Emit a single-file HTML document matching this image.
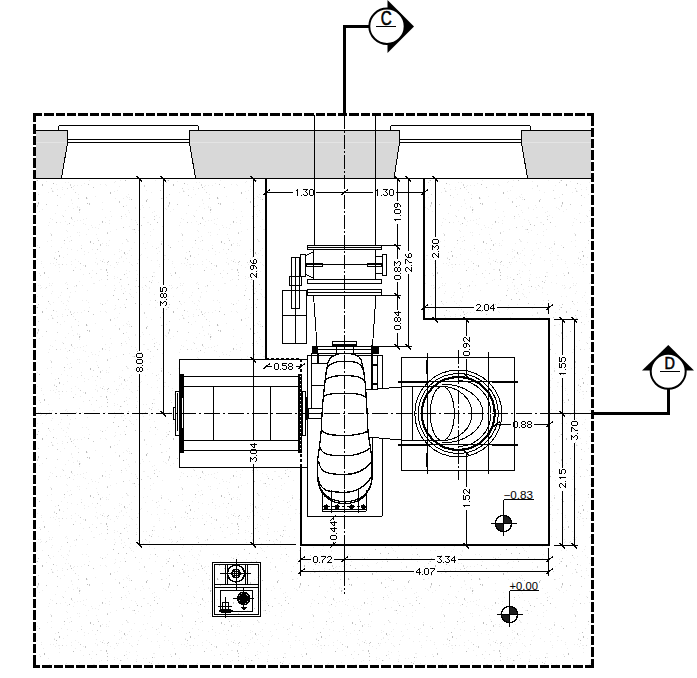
<!DOCTYPE html>
<html><head><meta charset="utf-8"><style>
html,body{margin:0;padding:0;background:#fff;}
svg{display:block;}
text{font-family:"Liberation Sans",sans-serif;fill:#000;}
</style></head><body>
<svg width="697" height="678" viewBox="0 0 697 678" shape-rendering="crispEdges">
<defs><pattern id="sp" width="131" height="127" patternUnits="userSpaceOnUse">
<rect x="38" y="50" width="1" height="1" fill="#c8c8c8"/>
<rect x="24" y="46" width="1" height="1" fill="#bcbcbc"/>
<rect x="54" y="4" width="1" height="1" fill="#d4d4d4"/>
<rect x="107" y="8" width="1" height="1" fill="#c8c8c8"/>
<rect x="108" y="7" width="1" height="1" fill="#bcbcbc"/>
<rect x="15" y="73" width="1" height="2" fill="#bcbcbc"/>
<rect x="56" y="5" width="1" height="1" fill="#bcbcbc"/>
<rect x="107" y="18" width="1" height="1" fill="#c8c8c8"/>
<rect x="78" y="71" width="1" height="1" fill="#d4d4d4"/>
<rect x="48" y="47" width="1" height="1" fill="#bcbcbc"/>
<rect x="16" y="72" width="1" height="1" fill="#d4d4d4"/>
<rect x="52" y="63" width="1" height="2" fill="#d4d4d4"/>
<rect x="119" y="74" width="1" height="2" fill="#c8c8c8"/>
<rect x="76" y="31" width="1" height="1" fill="#c8c8c8"/>
<rect x="62" y="10" width="1" height="1" fill="#d4d4d4"/>
<rect x="126" y="112" width="1" height="1" fill="#d4d4d4"/>
<rect x="114" y="36" width="1" height="1" fill="#d4d4d4"/>
<rect x="107" y="21" width="1" height="1" fill="#bcbcbc"/>
<rect x="125" y="53" width="1" height="1" fill="#bcbcbc"/>
<rect x="19" y="97" width="1" height="1" fill="#d4d4d4"/>
<rect x="89" y="76" width="1" height="2" fill="#c8c8c8"/>
<rect x="116" y="8" width="1" height="1" fill="#d4d4d4"/>
<rect x="121" y="89" width="1" height="1" fill="#c8c8c8"/>
<rect x="79" y="82" width="1" height="2" fill="#bcbcbc"/>
<rect x="98" y="113" width="1" height="1" fill="#c8c8c8"/>
<rect x="118" y="45" width="1" height="1" fill="#bcbcbc"/>
<rect x="29" y="63" width="1" height="1" fill="#d4d4d4"/>
<rect x="73" y="16" width="1" height="1" fill="#bcbcbc"/>
<rect x="100" y="117" width="1" height="2" fill="#c8c8c8"/>
<rect x="42" y="57" width="1" height="2" fill="#bcbcbc"/>
<rect x="71" y="113" width="1" height="1" fill="#d4d4d4"/>
<rect x="71" y="90" width="1" height="2" fill="#c8c8c8"/>
<rect x="97" y="122" width="1" height="1" fill="#c8c8c8"/>
<rect x="21" y="22" width="1" height="1" fill="#bcbcbc"/>
<rect x="59" y="1" width="1" height="2" fill="#bcbcbc"/>
<rect x="46" y="33" width="1" height="1" fill="#d4d4d4"/>
<rect x="37" y="53" width="1" height="1" fill="#bcbcbc"/>
<rect x="81" y="121" width="1" height="1" fill="#d4d4d4"/>
<rect x="13" y="58" width="1" height="2" fill="#d4d4d4"/>
<rect x="102" y="50" width="1" height="1" fill="#c8c8c8"/>
<rect x="102" y="7" width="1" height="1" fill="#c8c8c8"/>
<rect x="53" y="56" width="1" height="1" fill="#bcbcbc"/>
<rect x="87" y="76" width="1" height="1" fill="#bcbcbc"/>
<rect x="0" y="72" width="1" height="1" fill="#bcbcbc"/>
<rect x="25" y="121" width="1" height="1" fill="#d4d4d4"/>
<rect x="6" y="9" width="1" height="1" fill="#d4d4d4"/>
<rect x="96" y="19" width="1" height="1" fill="#d4d4d4"/>
<rect x="93" y="60" width="1" height="1" fill="#c8c8c8"/>
<rect x="124" y="125" width="1" height="2" fill="#bcbcbc"/>
<rect x="123" y="39" width="1" height="1" fill="#c8c8c8"/>
<rect x="26" y="95" width="1" height="1" fill="#bcbcbc"/>
<rect x="67" y="61" width="1" height="1" fill="#d4d4d4"/>
<rect x="5" y="26" width="1" height="1" fill="#d4d4d4"/>
<rect x="6" y="97" width="1" height="1" fill="#bcbcbc"/>
<rect x="23" y="89" width="1" height="1" fill="#d4d4d4"/>
<rect x="93" y="116" width="1" height="1" fill="#d4d4d4"/>
<rect x="57" y="68" width="1" height="1" fill="#c8c8c8"/>
<rect x="57" y="78" width="1" height="1" fill="#d4d4d4"/>
<rect x="102" y="94" width="1" height="1" fill="#bcbcbc"/>
<rect x="126" y="45" width="1" height="1" fill="#bcbcbc"/>
<rect x="71" y="60" width="1" height="1" fill="#bcbcbc"/>
<rect x="88" y="57" width="1" height="1" fill="#bcbcbc"/>
<rect x="20" y="28" width="1" height="1" fill="#c8c8c8"/>
<rect x="120" y="25" width="1" height="1" fill="#bcbcbc"/>
<rect x="123" y="79" width="1" height="1" fill="#bcbcbc"/>
<rect x="88" y="102" width="1" height="1" fill="#c8c8c8"/>
<rect x="30" y="116" width="1" height="2" fill="#d4d4d4"/>
<rect x="51" y="61" width="1" height="1" fill="#d4d4d4"/>
<rect x="85" y="11" width="1" height="2" fill="#c8c8c8"/>
<rect x="102" y="95" width="1" height="1" fill="#c8c8c8"/>
<rect x="40" y="21" width="1" height="1" fill="#d4d4d4"/>
<rect x="38" y="75" width="1" height="2" fill="#bcbcbc"/>
<rect x="37" y="78" width="1" height="2" fill="#d4d4d4"/>
<rect x="89" y="19" width="1" height="1" fill="#d4d4d4"/>
<rect x="3" y="102" width="1" height="1" fill="#bcbcbc"/>
<rect x="35" y="55" width="1" height="1" fill="#d4d4d4"/>
<rect x="7" y="32" width="1" height="1" fill="#bcbcbc"/>
<rect x="128" y="30" width="1" height="1" fill="#c8c8c8"/>
<rect x="107" y="106" width="1" height="1" fill="#c8c8c8"/>
<rect x="90" y="114" width="1" height="2" fill="#bcbcbc"/>
<rect x="107" y="105" width="1" height="1" fill="#d4d4d4"/>
<rect x="38" y="67" width="1" height="1" fill="#d4d4d4"/>
<rect x="46" y="77" width="1" height="1" fill="#c8c8c8"/>
<rect x="44" y="18" width="1" height="2" fill="#bcbcbc"/>
<rect x="30" y="71" width="1" height="1" fill="#d4d4d4"/>
<rect x="123" y="100" width="1" height="1" fill="#c8c8c8"/>
<rect x="14" y="31" width="1" height="1" fill="#d4d4d4"/>
<rect x="10" y="98" width="1" height="1" fill="#c8c8c8"/>
<rect x="115" y="71" width="1" height="1" fill="#d4d4d4"/>
<rect x="113" y="41" width="1" height="1" fill="#bcbcbc"/>
<rect x="70" y="57" width="1" height="2" fill="#d4d4d4"/>
<rect x="63" y="89" width="1" height="1" fill="#d4d4d4"/>
<rect x="51" y="107" width="1" height="2" fill="#d4d4d4"/>
<rect x="106" y="15" width="1" height="2" fill="#bcbcbc"/>
<rect x="80" y="9" width="1" height="1" fill="#c8c8c8"/>
<rect x="18" y="27" width="1" height="1" fill="#c8c8c8"/>
<rect x="39" y="120" width="1" height="1" fill="#bcbcbc"/>
<rect x="64" y="113" width="1" height="1" fill="#bcbcbc"/>
<rect x="56" y="95" width="1" height="1" fill="#c8c8c8"/>
<rect x="124" y="20" width="1" height="1" fill="#c8c8c8"/>
<rect x="110" y="65" width="1" height="2" fill="#bcbcbc"/>
<rect x="107" y="25" width="1" height="1" fill="#c8c8c8"/>
<rect x="23" y="92" width="1" height="1" fill="#c8c8c8"/>
<rect x="86" y="70" width="1" height="2" fill="#bcbcbc"/>
<rect x="4" y="49" width="1" height="1" fill="#c8c8c8"/>
<rect x="75" y="65" width="1" height="1" fill="#d4d4d4"/>
<rect x="58" y="124" width="1" height="1" fill="#bcbcbc"/>
<rect x="67" y="34" width="1" height="1" fill="#bcbcbc"/>
<rect x="69" y="96" width="1" height="1" fill="#bcbcbc"/>
<rect x="66" y="51" width="1" height="1" fill="#c8c8c8"/>
<rect x="126" y="89" width="1" height="1" fill="#ececec"/>
<rect x="83" y="11" width="1" height="1" fill="#ececec"/>
<rect x="71" y="7" width="1" height="1" fill="#ececec"/>
<rect x="46" y="54" width="1" height="1" fill="#ececec"/>
<rect x="18" y="34" width="1" height="1" fill="#ececec"/>
<rect x="4" y="81" width="1" height="1" fill="#ececec"/>
<rect x="22" y="102" width="1" height="1" fill="#ececec"/>
<rect x="66" y="10" width="1" height="1" fill="#ececec"/>
<rect x="56" y="8" width="1" height="1" fill="#ececec"/>
<rect x="67" y="110" width="1" height="1" fill="#ececec"/>
<rect x="31" y="58" width="1" height="1" fill="#ececec"/>
<rect x="2" y="43" width="1" height="1" fill="#ececec"/>
<rect x="106" y="118" width="1" height="1" fill="#ececec"/>
<rect x="68" y="79" width="1" height="1" fill="#ececec"/>
<rect x="33" y="5" width="1" height="1" fill="#ececec"/>
<rect x="61" y="120" width="1" height="1" fill="#ececec"/>
<rect x="28" y="124" width="1" height="1" fill="#ececec"/>
<rect x="41" y="33" width="1" height="1" fill="#ececec"/>
<rect x="12" y="23" width="1" height="1" fill="#ececec"/>
<rect x="51" y="119" width="1" height="1" fill="#ececec"/>
<rect x="79" y="80" width="1" height="1" fill="#ececec"/>
<rect x="78" y="67" width="1" height="1" fill="#ececec"/>
<rect x="52" y="37" width="1" height="1" fill="#ececec"/>
<rect x="114" y="64" width="1" height="1" fill="#ececec"/>
<rect x="45" y="34" width="1" height="1" fill="#ececec"/>
<rect x="88" y="102" width="1" height="1" fill="#ececec"/>
<rect x="4" y="32" width="1" height="1" fill="#ececec"/>
<rect x="9" y="1" width="1" height="1" fill="#ececec"/>
<rect x="4" y="93" width="1" height="1" fill="#ececec"/>
<rect x="129" y="70" width="1" height="1" fill="#ececec"/>
<rect x="48" y="65" width="1" height="1" fill="#ececec"/>
<rect x="121" y="31" width="1" height="1" fill="#ececec"/>
<rect x="114" y="13" width="1" height="1" fill="#ececec"/>
<rect x="110" y="84" width="1" height="1" fill="#ececec"/>
<rect x="126" y="69" width="1" height="1" fill="#ececec"/>
<rect x="100" y="124" width="1" height="1" fill="#ececec"/>
<rect x="129" y="39" width="1" height="1" fill="#ececec"/>
<rect x="55" y="125" width="1" height="1" fill="#ececec"/>
<rect x="58" y="43" width="1" height="1" fill="#ececec"/>
<rect x="50" y="106" width="1" height="1" fill="#ececec"/>
<rect x="35" y="51" width="1" height="1" fill="#ececec"/>
<rect x="88" y="125" width="1" height="1" fill="#ececec"/>
<rect x="13" y="107" width="1" height="1" fill="#ececec"/>
<rect x="33" y="1" width="1" height="1" fill="#ececec"/>
<rect x="18" y="80" width="1" height="1" fill="#ececec"/>
<rect x="65" y="55" width="1" height="1" fill="#ececec"/>
<rect x="41" y="7" width="1" height="1" fill="#ececec"/>
<rect x="21" y="85" width="1" height="1" fill="#ececec"/>
<rect x="97" y="111" width="1" height="1" fill="#ececec"/>
<rect x="129" y="85" width="1" height="1" fill="#ececec"/>
<rect x="72" y="76" width="1" height="1" fill="#ececec"/>
<rect x="62" y="88" width="1" height="1" fill="#ececec"/>
<rect x="75" y="5" width="1" height="1" fill="#ececec"/>
<rect x="117" y="23" width="1" height="1" fill="#ececec"/>
<rect x="40" y="34" width="1" height="1" fill="#ececec"/>
<rect x="114" y="0" width="1" height="1" fill="#ececec"/>
<rect x="67" y="46" width="1" height="1" fill="#ececec"/>
<rect x="84" y="124" width="1" height="1" fill="#ececec"/>
<rect x="82" y="31" width="1" height="1" fill="#ececec"/>
<rect x="8" y="123" width="1" height="1" fill="#ececec"/>
<rect x="79" y="27" width="1" height="1" fill="#ececec"/>
<rect x="91" y="23" width="1" height="1" fill="#ececec"/>
<rect x="0" y="42" width="1" height="1" fill="#ececec"/>
<rect x="97" y="10" width="1" height="1" fill="#ececec"/>
<rect x="121" y="35" width="1" height="1" fill="#ececec"/>
<rect x="128" y="83" width="1" height="1" fill="#ececec"/>
<rect x="51" y="31" width="1" height="1" fill="#ececec"/>
<rect x="129" y="99" width="1" height="1" fill="#ececec"/>
<rect x="1" y="11" width="1" height="1" fill="#ececec"/>
<rect x="67" y="104" width="1" height="1" fill="#ececec"/>
<rect x="22" y="18" width="1" height="1" fill="#ececec"/>
<rect x="102" y="75" width="1" height="1" fill="#ececec"/>
<rect x="10" y="50" width="1" height="1" fill="#ececec"/>
<rect x="5" y="38" width="1" height="1" fill="#ececec"/>
<rect x="77" y="80" width="1" height="1" fill="#ececec"/>
<rect x="59" y="10" width="1" height="1" fill="#ececec"/>
<rect x="39" y="84" width="1" height="1" fill="#ececec"/>
<rect x="99" y="97" width="1" height="1" fill="#ececec"/>
<rect x="83" y="92" width="1" height="1" fill="#ececec"/>
<rect x="126" y="19" width="1" height="1" fill="#ececec"/>
<rect x="72" y="92" width="1" height="1" fill="#ececec"/>
<rect x="37" y="5" width="1" height="1" fill="#ececec"/>
<rect x="109" y="93" width="1" height="1" fill="#ececec"/>
<rect x="129" y="17" width="1" height="1" fill="#ececec"/>
<rect x="129" y="72" width="1" height="1" fill="#ececec"/>
<rect x="4" y="105" width="1" height="1" fill="#ececec"/>
<rect x="58" y="10" width="1" height="1" fill="#ececec"/>
<rect x="7" y="5" width="1" height="1" fill="#ececec"/>
<rect x="34" y="81" width="1" height="1" fill="#ececec"/>
<rect x="92" y="122" width="1" height="1" fill="#ececec"/>
<rect x="26" y="48" width="1" height="1" fill="#ececec"/>
<rect x="115" y="71" width="1" height="1" fill="#ececec"/>
<rect x="12" y="80" width="1" height="1" fill="#ececec"/>
<rect x="4" y="80" width="1" height="1" fill="#ececec"/>
<rect x="62" y="62" width="1" height="1" fill="#ececec"/>
<rect x="67" y="0" width="1" height="1" fill="#ececec"/>
<rect x="116" y="102" width="1" height="1" fill="#ececec"/>
<rect x="17" y="95" width="1" height="1" fill="#ececec"/>
<rect x="128" y="114" width="1" height="1" fill="#ececec"/>
<rect x="23" y="84" width="1" height="1" fill="#ececec"/>
<rect x="16" y="95" width="1" height="1" fill="#ececec"/>
<rect x="121" y="32" width="1" height="1" fill="#ececec"/>
<rect x="19" y="108" width="1" height="1" fill="#ececec"/>
<rect x="67" y="30" width="1" height="1" fill="#ececec"/>
<rect x="52" y="29" width="1" height="1" fill="#ececec"/>
<rect x="117" y="63" width="1" height="1" fill="#ececec"/>
<rect x="97" y="9" width="1" height="1" fill="#ececec"/>
<rect x="122" y="116" width="1" height="1" fill="#ececec"/>
<rect x="73" y="98" width="1" height="1" fill="#ececec"/>
<rect x="11" y="78" width="1" height="1" fill="#ececec"/>
<rect x="50" y="9" width="1" height="1" fill="#ececec"/>
<rect x="37" y="42" width="1" height="1" fill="#ececec"/>
<rect x="65" y="83" width="1" height="1" fill="#ececec"/>
<rect x="77" y="79" width="1" height="1" fill="#ececec"/>
<rect x="34" y="1" width="1" height="1" fill="#ececec"/>
<rect x="123" y="7" width="1" height="1" fill="#ececec"/>
<rect x="124" y="34" width="1" height="1" fill="#ececec"/>
<rect x="25" y="88" width="1" height="1" fill="#ececec"/>
<rect x="55" y="86" width="1" height="1" fill="#ececec"/>
<rect x="125" y="37" width="1" height="1" fill="#ececec"/>
<rect x="73" y="59" width="1" height="1" fill="#ececec"/>
<rect x="119" y="59" width="1" height="1" fill="#ececec"/>
<rect x="30" y="114" width="1" height="1" fill="#ececec"/>
<rect x="51" y="39" width="1" height="1" fill="#ececec"/>
<rect x="21" y="119" width="1" height="1" fill="#ececec"/>
<rect x="121" y="2" width="1" height="1" fill="#ececec"/>
<rect x="74" y="58" width="1" height="1" fill="#ececec"/>
<rect x="19" y="104" width="1" height="1" fill="#ececec"/>
<rect x="129" y="123" width="1" height="1" fill="#ececec"/>
<rect x="115" y="34" width="1" height="1" fill="#ececec"/>
<rect x="99" y="26" width="1" height="1" fill="#ececec"/>
<rect x="53" y="9" width="1" height="1" fill="#ececec"/>
<rect x="23" y="18" width="1" height="1" fill="#ececec"/>
<rect x="67" y="121" width="1" height="1" fill="#ececec"/>
<rect x="92" y="16" width="1" height="1" fill="#ececec"/>
<rect x="130" y="35" width="1" height="1" fill="#ececec"/>
<rect x="28" y="90" width="1" height="1" fill="#ececec"/>
<rect x="93" y="29" width="1" height="1" fill="#ececec"/>
<rect x="127" y="114" width="1" height="1" fill="#ececec"/>
<rect x="124" y="50" width="1" height="1" fill="#ececec"/>
<rect x="6" y="20" width="1" height="1" fill="#ececec"/>
<rect x="0" y="121" width="1" height="1" fill="#ececec"/>
<rect x="125" y="87" width="1" height="1" fill="#ececec"/>
<rect x="115" y="51" width="1" height="1" fill="#ececec"/>
<rect x="77" y="93" width="1" height="1" fill="#ececec"/>
<rect x="36" y="53" width="1" height="1" fill="#ececec"/>
<rect x="88" y="48" width="1" height="1" fill="#ececec"/>
<rect x="80" y="15" width="1" height="1" fill="#ececec"/>
<rect x="84" y="0" width="1" height="1" fill="#ececec"/>
<rect x="83" y="96" width="1" height="1" fill="#ececec"/>
<rect x="86" y="107" width="1" height="1" fill="#ececec"/>
<rect x="101" y="15" width="1" height="1" fill="#ececec"/>
<rect x="50" y="91" width="1" height="1" fill="#ececec"/>
<rect x="3" y="115" width="1" height="1" fill="#ececec"/>
<rect x="74" y="32" width="1" height="1" fill="#ececec"/>
<rect x="95" y="8" width="1" height="1" fill="#ececec"/>
<rect x="100" y="49" width="1" height="1" fill="#ececec"/>
<rect x="19" y="46" width="1" height="1" fill="#ececec"/>
<rect x="109" y="96" width="1" height="1" fill="#ececec"/>
<rect x="70" y="109" width="1" height="1" fill="#ececec"/>
<rect x="12" y="35" width="1" height="1" fill="#ececec"/>
<rect x="26" y="6" width="1" height="1" fill="#ececec"/>
<rect x="73" y="81" width="1" height="1" fill="#ececec"/>
<rect x="38" y="31" width="1" height="1" fill="#ececec"/>
<rect x="68" y="55" width="1" height="1" fill="#ececec"/>
<rect x="130" y="40" width="1" height="1" fill="#ececec"/>
<rect x="48" y="98" width="1" height="1" fill="#ececec"/>
<rect x="95" y="100" width="1" height="1" fill="#ececec"/>
<rect x="109" y="113" width="1" height="1" fill="#ececec"/>
<rect x="7" y="103" width="1" height="1" fill="#ececec"/>
<rect x="102" y="116" width="1" height="1" fill="#ececec"/>
<rect x="52" y="92" width="1" height="1" fill="#ececec"/>
<rect x="20" y="6" width="1" height="1" fill="#ececec"/>
<rect x="105" y="57" width="1" height="1" fill="#ececec"/>
<rect x="35" y="82" width="1" height="1" fill="#ececec"/>
<rect x="73" y="62" width="1" height="1" fill="#ececec"/>
<rect x="12" y="116" width="1" height="1" fill="#ececec"/>
<rect x="32" y="21" width="1" height="1" fill="#ececec"/>
<rect x="120" y="53" width="1" height="1" fill="#ececec"/>
<rect x="87" y="36" width="1" height="1" fill="#ececec"/>
<rect x="76" y="32" width="1" height="1" fill="#ececec"/>
<rect x="66" y="51" width="1" height="1" fill="#ececec"/>
<rect x="61" y="38" width="1" height="1" fill="#ececec"/>
<rect x="123" y="71" width="1" height="1" fill="#ececec"/>
<rect x="100" y="15" width="1" height="1" fill="#ececec"/>
<rect x="42" y="82" width="1" height="1" fill="#ececec"/>
<rect x="41" y="9" width="1" height="1" fill="#ececec"/>
<rect x="53" y="64" width="1" height="1" fill="#ececec"/>
<rect x="127" y="70" width="1" height="1" fill="#ececec"/>
<rect x="56" y="57" width="1" height="1" fill="#ececec"/>
<rect x="85" y="97" width="1" height="1" fill="#ececec"/>
<rect x="115" y="54" width="1" height="1" fill="#ececec"/>
<rect x="35" y="70" width="1" height="1" fill="#ececec"/>
<rect x="49" y="31" width="1" height="1" fill="#ececec"/>
<rect x="23" y="22" width="1" height="1" fill="#ececec"/>
<rect x="87" y="71" width="1" height="1" fill="#ececec"/>
<rect x="23" y="40" width="1" height="1" fill="#ececec"/>
<rect x="61" y="47" width="1" height="1" fill="#ececec"/>
<rect x="66" y="103" width="1" height="1" fill="#ececec"/>
<rect x="51" y="113" width="1" height="1" fill="#ececec"/>
<rect x="5" y="95" width="1" height="1" fill="#ececec"/>
<rect x="105" y="49" width="1" height="1" fill="#ececec"/>
<rect x="105" y="95" width="1" height="1" fill="#ececec"/>
<rect x="53" y="48" width="1" height="1" fill="#ececec"/>
<rect x="69" y="43" width="1" height="1" fill="#ececec"/>
<rect x="15" y="63" width="1" height="1" fill="#ececec"/>
<rect x="71" y="73" width="1" height="1" fill="#ececec"/>
<rect x="92" y="16" width="1" height="1" fill="#ececec"/>
<rect x="128" y="67" width="1" height="1" fill="#ececec"/>
<rect x="55" y="11" width="1" height="1" fill="#ececec"/>
<rect x="69" y="114" width="1" height="1" fill="#ececec"/>
<rect x="63" y="49" width="1" height="1" fill="#ececec"/>
<rect x="102" y="82" width="1" height="1" fill="#ececec"/>
<rect x="114" y="55" width="1" height="1" fill="#ececec"/>
<rect x="79" y="108" width="1" height="1" fill="#ececec"/>
<rect x="5" y="16" width="1" height="1" fill="#ececec"/>
<rect x="8" y="54" width="1" height="1" fill="#ececec"/>
<rect x="121" y="123" width="1" height="1" fill="#ececec"/>
<rect x="125" y="0" width="1" height="1" fill="#ececec"/>
<rect x="18" y="50" width="1" height="1" fill="#ececec"/>
<rect x="119" y="124" width="1" height="1" fill="#ececec"/>
<rect x="114" y="31" width="1" height="1" fill="#ececec"/>
<rect x="27" y="28" width="1" height="1" fill="#ececec"/>
<rect x="39" y="19" width="1" height="1" fill="#ececec"/>
<rect x="27" y="120" width="1" height="1" fill="#ececec"/>
<rect x="117" y="10" width="1" height="1" fill="#ececec"/>
<rect x="10" y="0" width="1" height="1" fill="#ececec"/>
<rect x="32" y="29" width="1" height="1" fill="#ececec"/>
<rect x="9" y="82" width="1" height="1" fill="#ececec"/>
<rect x="77" y="123" width="1" height="1" fill="#ececec"/>
<rect x="32" y="80" width="1" height="1" fill="#ececec"/>
<rect x="64" y="67" width="1" height="1" fill="#ececec"/>
<rect x="111" y="89" width="1" height="1" fill="#ececec"/>
<rect x="28" y="12" width="1" height="1" fill="#ececec"/>
<rect x="18" y="38" width="1" height="1" fill="#ececec"/>
<rect x="49" y="49" width="1" height="1" fill="#ececec"/>
<rect x="66" y="28" width="1" height="1" fill="#ececec"/>
<rect x="0" y="1" width="1" height="1" fill="#ececec"/>
<rect x="77" y="58" width="1" height="1" fill="#ececec"/>
<rect x="71" y="122" width="1" height="1" fill="#ececec"/>
<rect x="80" y="82" width="1" height="1" fill="#ececec"/>
<rect x="62" y="60" width="1" height="1" fill="#ececec"/>
<rect x="60" y="70" width="1" height="1" fill="#ececec"/>
<rect x="63" y="3" width="1" height="1" fill="#ececec"/>
<rect x="105" y="90" width="1" height="1" fill="#ececec"/>
<rect x="78" y="7" width="1" height="1" fill="#ececec"/>
<rect x="5" y="24" width="1" height="1" fill="#ececec"/>
<rect x="127" y="113" width="1" height="1" fill="#ececec"/>
<rect x="107" y="10" width="1" height="1" fill="#ececec"/>
<rect x="65" y="29" width="1" height="1" fill="#ececec"/>
<rect x="108" y="118" width="1" height="1" fill="#ececec"/>
<rect x="94" y="29" width="1" height="1" fill="#ececec"/>
<rect x="126" y="4" width="1" height="1" fill="#ececec"/>
<rect x="86" y="91" width="1" height="1" fill="#ececec"/>
<rect x="107" y="46" width="1" height="1" fill="#ececec"/>
<rect x="101" y="25" width="1" height="1" fill="#ececec"/>
<rect x="1" y="102" width="1" height="1" fill="#ececec"/>
<rect x="74" y="94" width="1" height="1" fill="#ececec"/>
<rect x="129" y="8" width="1" height="1" fill="#ececec"/>
<rect x="52" y="63" width="1" height="1" fill="#ececec"/>
<rect x="51" y="39" width="1" height="1" fill="#ececec"/>
<rect x="49" y="29" width="1" height="1" fill="#ececec"/>
<rect x="119" y="28" width="1" height="1" fill="#ececec"/>
<rect x="67" y="97" width="1" height="1" fill="#ececec"/>
<rect x="75" y="13" width="1" height="1" fill="#ececec"/>
<rect x="126" y="78" width="1" height="1" fill="#ececec"/>
<rect x="47" y="114" width="1" height="1" fill="#ececec"/>
<rect x="57" y="62" width="1" height="1" fill="#ececec"/>
<rect x="106" y="116" width="1" height="1" fill="#ececec"/>
<rect x="14" y="121" width="1" height="1" fill="#ececec"/>
<rect x="37" y="118" width="1" height="1" fill="#ececec"/>
<rect x="100" y="6" width="1" height="1" fill="#ececec"/>
<rect x="54" y="3" width="1" height="1" fill="#ececec"/>
<rect x="36" y="53" width="1" height="1" fill="#ececec"/>
<rect x="13" y="90" width="1" height="1" fill="#ececec"/>
<rect x="15" y="23" width="1" height="1" fill="#ececec"/>
<rect x="100" y="57" width="1" height="1" fill="#ececec"/>
<rect x="80" y="93" width="1" height="1" fill="#ececec"/>
<rect x="28" y="10" width="1" height="1" fill="#ececec"/>
<rect x="42" y="42" width="1" height="1" fill="#ececec"/>
<rect x="48" y="23" width="1" height="1" fill="#ececec"/>
<rect x="119" y="4" width="1" height="1" fill="#ececec"/>
<rect x="79" y="85" width="1" height="1" fill="#ececec"/>
<rect x="96" y="107" width="1" height="1" fill="#ececec"/>
<rect x="95" y="126" width="1" height="1" fill="#ececec"/>
<rect x="84" y="56" width="1" height="1" fill="#ececec"/>
<rect x="43" y="13" width="1" height="1" fill="#ececec"/>
<rect x="0" y="10" width="1" height="1" fill="#ececec"/>
<rect x="71" y="10" width="1" height="1" fill="#ececec"/>
<rect x="89" y="53" width="1" height="1" fill="#ececec"/>
<rect x="31" y="71" width="1" height="1" fill="#ececec"/>
<rect x="53" y="48" width="1" height="1" fill="#ececec"/>
<rect x="91" y="98" width="1" height="1" fill="#ececec"/>
<rect x="79" y="105" width="1" height="1" fill="#ececec"/>
<rect x="110" y="11" width="1" height="1" fill="#ececec"/>
<rect x="12" y="90" width="1" height="1" fill="#ececec"/>
<rect x="121" y="25" width="1" height="1" fill="#ececec"/>
<rect x="95" y="69" width="1" height="1" fill="#ececec"/>
<rect x="114" y="24" width="1" height="1" fill="#ececec"/>
<rect x="82" y="46" width="1" height="1" fill="#ececec"/>
<rect x="121" y="3" width="1" height="1" fill="#ececec"/>
<rect x="105" y="31" width="1" height="1" fill="#ececec"/>
<rect x="103" y="5" width="1" height="1" fill="#ececec"/>
<rect x="96" y="4" width="1" height="1" fill="#ececec"/>
<rect x="118" y="8" width="1" height="1" fill="#ececec"/>
<rect x="15" y="32" width="1" height="1" fill="#ececec"/>
<rect x="49" y="95" width="1" height="1" fill="#ececec"/>
<rect x="16" y="115" width="1" height="1" fill="#ececec"/>
<rect x="86" y="46" width="1" height="1" fill="#ececec"/>
<rect x="69" y="42" width="1" height="1" fill="#ececec"/>
<rect x="11" y="33" width="1" height="1" fill="#ececec"/>
<rect x="81" y="118" width="1" height="1" fill="#ececec"/>
<rect x="70" y="38" width="1" height="1" fill="#ececec"/>
<rect x="0" y="92" width="1" height="1" fill="#ececec"/>
<rect x="16" y="3" width="1" height="1" fill="#ececec"/>
<rect x="59" y="13" width="1" height="1" fill="#ececec"/>
<rect x="121" y="91" width="1" height="1" fill="#ececec"/>
<rect x="119" y="122" width="1" height="1" fill="#ececec"/>
<rect x="98" y="101" width="1" height="1" fill="#ececec"/>
<rect x="64" y="116" width="1" height="1" fill="#ececec"/>
<rect x="110" y="104" width="1" height="1" fill="#ececec"/>
<rect x="126" y="16" width="1" height="1" fill="#ececec"/>
<rect x="127" y="23" width="1" height="1" fill="#ececec"/>
<rect x="2" y="102" width="1" height="1" fill="#ececec"/>
<rect x="77" y="105" width="1" height="1" fill="#ececec"/>
<rect x="38" y="77" width="1" height="1" fill="#ececec"/>
<rect x="60" y="41" width="1" height="1" fill="#ececec"/>
<rect x="81" y="58" width="1" height="1" fill="#ececec"/>
<rect x="92" y="100" width="1" height="1" fill="#ececec"/>
<rect x="20" y="65" width="1" height="1" fill="#ececec"/>
<rect x="50" y="50" width="1" height="1" fill="#ececec"/>
<rect x="40" y="31" width="1" height="1" fill="#ececec"/>
<rect x="104" y="8" width="1" height="1" fill="#ececec"/>
<rect x="8" y="61" width="1" height="1" fill="#ececec"/>
<rect x="83" y="20" width="1" height="1" fill="#ececec"/>
<rect x="109" y="113" width="1" height="1" fill="#ececec"/>
<rect x="26" y="126" width="1" height="1" fill="#ececec"/>
<rect x="18" y="33" width="1" height="1" fill="#ececec"/>
<rect x="21" y="26" width="1" height="1" fill="#ececec"/>
<rect x="24" y="53" width="1" height="1" fill="#ececec"/>
<rect x="127" y="126" width="1" height="1" fill="#ececec"/>
<rect x="114" y="22" width="1" height="1" fill="#ececec"/>
<rect x="59" y="17" width="1" height="1" fill="#ececec"/>
<rect x="106" y="58" width="1" height="1" fill="#ececec"/>
<rect x="60" y="95" width="1" height="1" fill="#ececec"/>
<rect x="31" y="99" width="1" height="1" fill="#ececec"/>
<rect x="75" y="37" width="1" height="1" fill="#ececec"/>
<rect x="71" y="72" width="1" height="1" fill="#ececec"/>
<rect x="68" y="47" width="1" height="1" fill="#ececec"/>
<rect x="65" y="94" width="1" height="1" fill="#ececec"/>
</pattern></defs>
<rect x="36" y="178" width="555" height="487" fill="url(#sp)"/>
<polygon points="266,179 424,179 424,319 549,319 549,545 301,545 301,359 266,359" fill="#fff"/>
<rect x="179" y="359" width="129" height="108" fill="#fff"/>
<polygon points="36,130.5 67.5,130.5 67.5,143 61.5,178.5 36,178.5" fill="#d8d8d8" stroke="none" stroke-width="1"/>
<polygon points="189.5,130.5 399.5,130.5 399.5,143 394,178.5 195.5,178.5 190,143" fill="#d8d8d8" stroke="none" stroke-width="1"/>
<polygon points="521.5,130.5 591,130.5 591,178.5 527.5,178.5 522,143" fill="#d8d8d8" stroke="none" stroke-width="1"/>
<rect x="36" y="142" width="31" height="1" fill="#e4e4e4"/><rect x="190" y="142" width="209" height="1" fill="#e4e4e4"/><rect x="522" y="142" width="69" height="1" fill="#e4e4e4"/>
<line x1="36" y1="130.5" x2="68" y2="130.5" stroke="#000" stroke-width="1"/>
<line x1="189" y1="130.5" x2="400" y2="130.5" stroke="#000" stroke-width="1"/>
<line x1="521" y1="130.5" x2="591" y2="130.5" stroke="#000" stroke-width="1"/>
<line x1="67.5" y1="130" x2="67.5" y2="143" stroke="#000" stroke-width="1"/>
<line x1="67.5" y1="143" x2="61.5" y2="178" stroke="#000" stroke-width="1"/>
<line x1="189.5" y1="130" x2="189.5" y2="143" stroke="#000" stroke-width="1"/>
<line x1="189.5" y1="143" x2="195.5" y2="178" stroke="#000" stroke-width="1"/>
<line x1="399.5" y1="130" x2="399.5" y2="143" stroke="#000" stroke-width="1"/>
<line x1="399.5" y1="143" x2="394" y2="178" stroke="#000" stroke-width="1"/>
<line x1="521.5" y1="130" x2="521.5" y2="143" stroke="#000" stroke-width="1"/>
<line x1="521.5" y1="143" x2="527.5" y2="178" stroke="#000" stroke-width="1"/>
<line x1="36" y1="178.5" x2="591" y2="178.5" stroke="#000" stroke-width="1"/>
<line x1="68" y1="139.5" x2="189" y2="139.5" stroke="#000" stroke-width="1"/>
<line x1="68" y1="142.5" x2="189" y2="142.5" stroke="#000" stroke-width="1"/>
<line x1="400" y1="139.5" x2="521" y2="139.5" stroke="#000" stroke-width="1"/>
<line x1="400" y1="142.5" x2="521" y2="142.5" stroke="#000" stroke-width="1"/>
<path d="M58.5,130 V127.5 Q58.5,125.5 60.5,125.5 H196.5 Q198.5,125.5 198.5,127.5 V130" fill="none" stroke="#000" stroke-width="1"/>
<path d="M390.5,130 V127.5 Q390.5,125.5 392.5,125.5 H528.5 Q530.5,125.5 530.5,127.5 V130" fill="none" stroke="#000" stroke-width="1"/>
<line x1="33" y1="114.5" x2="594" y2="114.5" stroke="#000" stroke-width="3" stroke-dasharray="9.3,2"/>
<line x1="34.5" y1="113" x2="34.5" y2="668" stroke="#000" stroke-width="3" stroke-dasharray="9.3,2"/>
<line x1="594" y1="666.5" x2="33" y2="666.5" stroke="#000" stroke-width="3" stroke-dasharray="9.3,2"/>
<line x1="592.5" y1="668" x2="592.5" y2="113" stroke="#000" stroke-width="3" stroke-dasharray="9.3,2"/>
<g shape-rendering="geometricPrecision">
<line x1="344.5" y1="115" x2="344.5" y2="25" stroke="#000" stroke-width="3"/>
<line x1="343" y1="26.5" x2="370" y2="26.5" stroke="#000" stroke-width="3"/>
<polygon points="387.5,0 414,26.5 387.5,53" fill="#000"/>
<circle cx="387" cy="26.3" r="17.7" fill="#fff" stroke="#000" stroke-width="2"/>
<text x="0" y="0" font-size="19.5" font-family="Liberation Serif" text-anchor="middle" stroke="#000" stroke-width="0.6" transform="translate(386.2,24.6) scale(0.78,1)">C</text>
<line x1="376" y1="26.5" x2="396" y2="26.5" stroke="#000" stroke-width="1"/>
<line x1="592" y1="413.5" x2="670" y2="413.5" stroke="#000" stroke-width="3"/>
<line x1="668.5" y1="415" x2="668.5" y2="389" stroke="#000" stroke-width="3"/>
<polygon points="642,370.5 668.3,345 694,370.5" fill="#000"/>
<circle cx="668.2" cy="371.3" r="17.5" fill="#fff" stroke="#000" stroke-width="2"/>
<text x="0" y="0" font-size="17" text-anchor="middle" stroke="#000" stroke-width="0.6" transform="translate(669.7,369) scale(0.85,1)">D</text>
<line x1="660" y1="371.5" x2="680" y2="371.5" stroke="#000" stroke-width="1"/>
</g>
<line x1="266" y1="178" x2="266" y2="359" stroke="#000" stroke-width="2"/>
<line x1="424" y1="178" x2="424" y2="320" stroke="#000" stroke-width="2"/>
<line x1="423" y1="319" x2="550" y2="319" stroke="#000" stroke-width="2"/>
<line x1="549" y1="318" x2="549" y2="546" stroke="#000" stroke-width="2"/>
<line x1="300" y1="545" x2="550" y2="545" stroke="#000" stroke-width="2"/>
<line x1="301" y1="467" x2="301" y2="546" stroke="#000" stroke-width="2"/>
<line x1="301" y1="359" x2="301" y2="467" stroke="#000" stroke-width="2" stroke-dasharray="3,2"/>
<line x1="266" y1="358.5" x2="301" y2="358.5" stroke="#000" stroke-width="1" stroke-dasharray="3,2"/>
<line x1="139.5" y1="178.5" x2="139.5" y2="350.5" stroke="#000" stroke-width="1"/>
<line x1="139.5" y1="373.5" x2="139.5" y2="544.5" stroke="#000" stroke-width="1"/>
<path d="M136,370h1v1h-1zM136,369h1v1h-1zM136,368h1v1h-1zM137,371h1v1h-1zM137,367h1v1h-1zM138,371h1v1h-1zM138,367h1v1h-1zM139,370h1v1h-1zM139,369h1v1h-1zM139,368h1v1h-1zM140,371h1v1h-1zM140,367h1v1h-1zM141,371h1v1h-1zM141,367h1v1h-1zM142,370h1v1h-1zM142,369h1v1h-1zM142,368h1v1h-1zM142,365h1v1h-1zM136,362h1v1h-1zM136,361h1v1h-1zM136,360h1v1h-1zM137,363h1v1h-1zM137,359h1v1h-1zM138,363h1v1h-1zM138,359h1v1h-1zM139,363h1v1h-1zM139,359h1v1h-1zM140,363h1v1h-1zM140,359h1v1h-1zM141,363h1v1h-1zM141,359h1v1h-1zM142,362h1v1h-1zM142,361h1v1h-1zM142,360h1v1h-1zM136,356h1v1h-1zM136,355h1v1h-1zM136,354h1v1h-1zM137,357h1v1h-1zM137,353h1v1h-1zM138,357h1v1h-1zM138,353h1v1h-1zM139,357h1v1h-1zM139,353h1v1h-1zM140,357h1v1h-1zM140,353h1v1h-1zM141,357h1v1h-1zM141,353h1v1h-1zM142,356h1v1h-1zM142,355h1v1h-1zM142,354h1v1h-1z" fill="#000"/>
<line x1="136.5" y1="175.8" x2="142.2" y2="181.5" stroke="#000" stroke-width="1.3"/>
<line x1="136.5" y1="541.8" x2="142.2" y2="547.5" stroke="#000" stroke-width="1.3"/>
<line x1="163.5" y1="178.5" x2="163.5" y2="284.5" stroke="#000" stroke-width="1"/>
<line x1="163.5" y1="307.5" x2="163.5" y2="413.5" stroke="#000" stroke-width="1"/>
<path d="M160,305h1v1h-1zM160,304h1v1h-1zM160,303h1v1h-1zM160,302h1v1h-1zM160,301h1v1h-1zM161,302h1v1h-1zM162,303h1v1h-1zM163,302h1v1h-1zM164,301h1v1h-1zM165,305h1v1h-1zM165,301h1v1h-1zM166,304h1v1h-1zM166,303h1v1h-1zM166,302h1v1h-1zM166,299h1v1h-1zM160,296h1v1h-1zM160,295h1v1h-1zM160,294h1v1h-1zM161,297h1v1h-1zM161,293h1v1h-1zM162,297h1v1h-1zM162,293h1v1h-1zM163,296h1v1h-1zM163,295h1v1h-1zM163,294h1v1h-1zM164,297h1v1h-1zM164,293h1v1h-1zM165,297h1v1h-1zM165,293h1v1h-1zM166,296h1v1h-1zM166,295h1v1h-1zM166,294h1v1h-1zM160,291h1v1h-1zM160,290h1v1h-1zM160,289h1v1h-1zM160,288h1v1h-1zM160,287h1v1h-1zM161,291h1v1h-1zM162,291h1v1h-1zM162,290h1v1h-1zM162,289h1v1h-1zM162,288h1v1h-1zM163,287h1v1h-1zM164,287h1v1h-1zM165,291h1v1h-1zM165,287h1v1h-1zM166,290h1v1h-1zM166,289h1v1h-1zM166,288h1v1h-1z" fill="#000"/>
<line x1="160.5" y1="175.8" x2="166.2" y2="181.5" stroke="#000" stroke-width="1.3"/>
<line x1="160.5" y1="410.8" x2="166.2" y2="416.5" stroke="#000" stroke-width="1.3"/>
<line x1="253.5" y1="178.5" x2="253.5" y2="257.0" stroke="#000" stroke-width="1"/>
<line x1="253.5" y1="280.0" x2="253.5" y2="359.5" stroke="#000" stroke-width="1"/>
<path d="M250,276h1v1h-1zM250,275h1v1h-1zM250,274h1v1h-1zM251,277h1v1h-1zM251,273h1v1h-1zM252,273h1v1h-1zM253,274h1v1h-1zM254,275h1v1h-1zM255,276h1v1h-1zM256,277h1v1h-1zM256,276h1v1h-1zM256,275h1v1h-1zM256,274h1v1h-1zM256,273h1v1h-1zM256,271h1v1h-1zM250,268h1v1h-1zM250,267h1v1h-1zM250,266h1v1h-1zM251,269h1v1h-1zM251,265h1v1h-1zM252,269h1v1h-1zM252,265h1v1h-1zM253,268h1v1h-1zM253,267h1v1h-1zM253,266h1v1h-1zM253,265h1v1h-1zM254,265h1v1h-1zM255,266h1v1h-1zM256,268h1v1h-1zM256,267h1v1h-1zM250,261h1v1h-1zM250,260h1v1h-1zM251,262h1v1h-1zM252,263h1v1h-1zM253,263h1v1h-1zM253,262h1v1h-1zM253,261h1v1h-1zM253,260h1v1h-1zM254,263h1v1h-1zM254,259h1v1h-1zM255,263h1v1h-1zM255,259h1v1h-1zM256,262h1v1h-1zM256,261h1v1h-1zM256,260h1v1h-1z" fill="#000"/>
<line x1="250.5" y1="175.8" x2="256.2" y2="181.5" stroke="#000" stroke-width="1.3"/>
<line x1="250.5" y1="356.8" x2="256.2" y2="362.5" stroke="#000" stroke-width="1.3"/>
<line x1="253.5" y1="359.5" x2="253.5" y2="440.5" stroke="#000" stroke-width="1"/>
<line x1="253.5" y1="463.5" x2="253.5" y2="544.5" stroke="#000" stroke-width="1"/>
<path d="M250,461h1v1h-1zM250,460h1v1h-1zM250,459h1v1h-1zM250,458h1v1h-1zM250,457h1v1h-1zM251,458h1v1h-1zM252,459h1v1h-1zM253,458h1v1h-1zM254,457h1v1h-1zM255,461h1v1h-1zM255,457h1v1h-1zM256,460h1v1h-1zM256,459h1v1h-1zM256,458h1v1h-1zM256,455h1v1h-1zM250,452h1v1h-1zM250,451h1v1h-1zM250,450h1v1h-1zM251,453h1v1h-1zM251,449h1v1h-1zM252,453h1v1h-1zM252,449h1v1h-1zM253,453h1v1h-1zM253,449h1v1h-1zM254,453h1v1h-1zM254,449h1v1h-1zM255,453h1v1h-1zM255,449h1v1h-1zM256,452h1v1h-1zM256,451h1v1h-1zM256,450h1v1h-1zM250,444h1v1h-1zM251,445h1v1h-1zM251,444h1v1h-1zM252,446h1v1h-1zM252,444h1v1h-1zM253,447h1v1h-1zM253,444h1v1h-1zM254,447h1v1h-1zM254,446h1v1h-1zM254,445h1v1h-1zM254,444h1v1h-1zM254,443h1v1h-1zM255,444h1v1h-1zM256,444h1v1h-1z" fill="#000"/>
<line x1="250.5" y1="541.8" x2="256.2" y2="547.5" stroke="#000" stroke-width="1.3"/>
<line x1="139" y1="544.5" x2="296" y2="544.5" stroke="#000" stroke-width="1"/>
<line x1="266.5" y1="192.5" x2="293.0" y2="192.5" stroke="#000" stroke-width="1"/>
<line x1="316.0" y1="192.5" x2="344.5" y2="192.5" stroke="#000" stroke-width="1"/>
<path d="M297,189h1v1h-1zM296,190h1v1h-1zM297,190h1v1h-1zM297,191h1v1h-1zM297,192h1v1h-1zM297,193h1v1h-1zM297,194h1v1h-1zM297,195h1v1h-1zM301,195h1v1h-1zM303,189h1v1h-1zM304,189h1v1h-1zM305,189h1v1h-1zM306,189h1v1h-1zM307,189h1v1h-1zM306,190h1v1h-1zM305,191h1v1h-1zM306,192h1v1h-1zM307,193h1v1h-1zM303,194h1v1h-1zM307,194h1v1h-1zM304,195h1v1h-1zM305,195h1v1h-1zM306,195h1v1h-1zM310,189h1v1h-1zM311,189h1v1h-1zM312,189h1v1h-1zM309,190h1v1h-1zM313,190h1v1h-1zM309,191h1v1h-1zM313,191h1v1h-1zM309,192h1v1h-1zM313,192h1v1h-1zM309,193h1v1h-1zM313,193h1v1h-1zM309,194h1v1h-1zM313,194h1v1h-1zM310,195h1v1h-1zM311,195h1v1h-1zM312,195h1v1h-1z" fill="#000"/>
<line x1="263.3" y1="195.2" x2="269.7" y2="189.5" stroke="#000" stroke-width="1.3"/>
<line x1="341.3" y1="195.2" x2="347.7" y2="189.5" stroke="#000" stroke-width="1.3"/>
<line x1="344.5" y1="192.5" x2="373.0" y2="192.5" stroke="#000" stroke-width="1"/>
<line x1="396.0" y1="192.5" x2="424.5" y2="192.5" stroke="#000" stroke-width="1"/>
<path d="M377,189h1v1h-1zM376,190h1v1h-1zM377,190h1v1h-1zM377,191h1v1h-1zM377,192h1v1h-1zM377,193h1v1h-1zM377,194h1v1h-1zM377,195h1v1h-1zM381,195h1v1h-1zM383,189h1v1h-1zM384,189h1v1h-1zM385,189h1v1h-1zM386,189h1v1h-1zM387,189h1v1h-1zM386,190h1v1h-1zM385,191h1v1h-1zM386,192h1v1h-1zM387,193h1v1h-1zM383,194h1v1h-1zM387,194h1v1h-1zM384,195h1v1h-1zM385,195h1v1h-1zM386,195h1v1h-1zM390,189h1v1h-1zM391,189h1v1h-1zM392,189h1v1h-1zM389,190h1v1h-1zM393,190h1v1h-1zM389,191h1v1h-1zM393,191h1v1h-1zM389,192h1v1h-1zM393,192h1v1h-1zM389,193h1v1h-1zM393,193h1v1h-1zM389,194h1v1h-1zM393,194h1v1h-1zM390,195h1v1h-1zM391,195h1v1h-1zM392,195h1v1h-1z" fill="#000"/>
<line x1="421.3" y1="195.2" x2="427.7" y2="189.5" stroke="#000" stroke-width="1.3"/>
<line x1="397.5" y1="178.5" x2="397.5" y2="200.5" stroke="#000" stroke-width="1"/>
<line x1="397.5" y1="223.5" x2="397.5" y2="246.5" stroke="#000" stroke-width="1"/>
<path d="M394,219h1v1h-1zM395,220h1v1h-1zM395,219h1v1h-1zM396,219h1v1h-1zM397,219h1v1h-1zM398,219h1v1h-1zM399,219h1v1h-1zM400,219h1v1h-1zM400,215h1v1h-1zM394,212h1v1h-1zM394,211h1v1h-1zM394,210h1v1h-1zM395,213h1v1h-1zM395,209h1v1h-1zM396,213h1v1h-1zM396,209h1v1h-1zM397,213h1v1h-1zM397,209h1v1h-1zM398,213h1v1h-1zM398,209h1v1h-1zM399,213h1v1h-1zM399,209h1v1h-1zM400,212h1v1h-1zM400,211h1v1h-1zM400,210h1v1h-1zM394,206h1v1h-1zM394,205h1v1h-1zM394,204h1v1h-1zM395,207h1v1h-1zM395,203h1v1h-1zM396,207h1v1h-1zM396,203h1v1h-1zM397,206h1v1h-1zM397,205h1v1h-1zM397,204h1v1h-1zM397,203h1v1h-1zM398,203h1v1h-1zM399,204h1v1h-1zM400,206h1v1h-1zM400,205h1v1h-1z" fill="#000"/>
<line x1="394.5" y1="175.8" x2="400.2" y2="181.5" stroke="#000" stroke-width="1.3"/>
<line x1="394.5" y1="243.8" x2="400.2" y2="249.5" stroke="#000" stroke-width="1.3"/>
<line x1="397.5" y1="246.5" x2="397.5" y2="258.5" stroke="#000" stroke-width="1"/>
<line x1="397.5" y1="281.5" x2="397.5" y2="295.5" stroke="#000" stroke-width="1"/>
<path d="M394,278h1v1h-1zM394,277h1v1h-1zM394,276h1v1h-1zM395,279h1v1h-1zM395,275h1v1h-1zM396,279h1v1h-1zM396,275h1v1h-1zM397,279h1v1h-1zM397,275h1v1h-1zM398,279h1v1h-1zM398,275h1v1h-1zM399,279h1v1h-1zM399,275h1v1h-1zM400,278h1v1h-1zM400,277h1v1h-1zM400,276h1v1h-1zM400,273h1v1h-1zM394,270h1v1h-1zM394,269h1v1h-1zM394,268h1v1h-1zM395,271h1v1h-1zM395,267h1v1h-1zM396,271h1v1h-1zM396,267h1v1h-1zM397,270h1v1h-1zM397,269h1v1h-1zM397,268h1v1h-1zM398,271h1v1h-1zM398,267h1v1h-1zM399,271h1v1h-1zM399,267h1v1h-1zM400,270h1v1h-1zM400,269h1v1h-1zM400,268h1v1h-1zM394,265h1v1h-1zM394,264h1v1h-1zM394,263h1v1h-1zM394,262h1v1h-1zM394,261h1v1h-1zM395,262h1v1h-1zM396,263h1v1h-1zM397,262h1v1h-1zM398,261h1v1h-1zM399,265h1v1h-1zM399,261h1v1h-1zM400,264h1v1h-1zM400,263h1v1h-1zM400,262h1v1h-1z" fill="#000"/>
<line x1="394.5" y1="243.8" x2="400.2" y2="249.5" stroke="#000" stroke-width="1.3"/>
<line x1="394.5" y1="292.8" x2="400.2" y2="298.5" stroke="#000" stroke-width="1.3"/>
<line x1="397.5" y1="295.5" x2="397.5" y2="309.5" stroke="#000" stroke-width="1"/>
<line x1="397.5" y1="332.5" x2="397.5" y2="346.5" stroke="#000" stroke-width="1"/>
<path d="M394,328h1v1h-1zM394,327h1v1h-1zM394,326h1v1h-1zM395,329h1v1h-1zM395,325h1v1h-1zM396,329h1v1h-1zM396,325h1v1h-1zM397,329h1v1h-1zM397,325h1v1h-1zM398,329h1v1h-1zM398,325h1v1h-1zM399,329h1v1h-1zM399,325h1v1h-1zM400,328h1v1h-1zM400,327h1v1h-1zM400,326h1v1h-1zM400,323h1v1h-1zM394,320h1v1h-1zM394,319h1v1h-1zM394,318h1v1h-1zM395,321h1v1h-1zM395,317h1v1h-1zM396,321h1v1h-1zM396,317h1v1h-1zM397,320h1v1h-1zM397,319h1v1h-1zM397,318h1v1h-1zM398,321h1v1h-1zM398,317h1v1h-1zM399,321h1v1h-1zM399,317h1v1h-1zM400,320h1v1h-1zM400,319h1v1h-1zM400,318h1v1h-1zM394,312h1v1h-1zM395,313h1v1h-1zM395,312h1v1h-1zM396,314h1v1h-1zM396,312h1v1h-1zM397,315h1v1h-1zM397,312h1v1h-1zM398,315h1v1h-1zM398,314h1v1h-1zM398,313h1v1h-1zM398,312h1v1h-1zM398,311h1v1h-1zM399,312h1v1h-1zM400,312h1v1h-1z" fill="#000"/>
<line x1="394.5" y1="292.8" x2="400.2" y2="298.5" stroke="#000" stroke-width="1.3"/>
<line x1="394.5" y1="343.8" x2="400.2" y2="349.5" stroke="#000" stroke-width="1.3"/>
<line x1="408.5" y1="178.5" x2="408.5" y2="250.5" stroke="#000" stroke-width="1"/>
<line x1="408.5" y1="273.5" x2="408.5" y2="346.5" stroke="#000" stroke-width="1"/>
<path d="M405,270h1v1h-1zM405,269h1v1h-1zM405,268h1v1h-1zM406,271h1v1h-1zM406,267h1v1h-1zM407,267h1v1h-1zM408,268h1v1h-1zM409,269h1v1h-1zM410,270h1v1h-1zM411,271h1v1h-1zM411,270h1v1h-1zM411,269h1v1h-1zM411,268h1v1h-1zM411,267h1v1h-1zM411,265h1v1h-1zM405,263h1v1h-1zM405,262h1v1h-1zM405,261h1v1h-1zM405,260h1v1h-1zM405,259h1v1h-1zM406,259h1v1h-1zM407,260h1v1h-1zM408,261h1v1h-1zM409,262h1v1h-1zM410,262h1v1h-1zM411,262h1v1h-1zM405,255h1v1h-1zM405,254h1v1h-1zM406,256h1v1h-1zM407,257h1v1h-1zM408,257h1v1h-1zM408,256h1v1h-1zM408,255h1v1h-1zM408,254h1v1h-1zM409,257h1v1h-1zM409,253h1v1h-1zM410,257h1v1h-1zM410,253h1v1h-1zM411,256h1v1h-1zM411,255h1v1h-1zM411,254h1v1h-1z" fill="#000"/>
<line x1="405.5" y1="175.8" x2="411.2" y2="181.5" stroke="#000" stroke-width="1.3"/>
<line x1="405.5" y1="343.8" x2="411.2" y2="349.5" stroke="#000" stroke-width="1.3"/>
<line x1="435.5" y1="178.5" x2="435.5" y2="236.5" stroke="#000" stroke-width="1"/>
<line x1="435.5" y1="259.5" x2="435.5" y2="319.5" stroke="#000" stroke-width="1"/>
<path d="M432,256h1v1h-1zM432,255h1v1h-1zM432,254h1v1h-1zM433,257h1v1h-1zM433,253h1v1h-1zM434,253h1v1h-1zM435,254h1v1h-1zM436,255h1v1h-1zM437,256h1v1h-1zM438,257h1v1h-1zM438,256h1v1h-1zM438,255h1v1h-1zM438,254h1v1h-1zM438,253h1v1h-1zM438,251h1v1h-1zM432,249h1v1h-1zM432,248h1v1h-1zM432,247h1v1h-1zM432,246h1v1h-1zM432,245h1v1h-1zM433,246h1v1h-1zM434,247h1v1h-1zM435,246h1v1h-1zM436,245h1v1h-1zM437,249h1v1h-1zM437,245h1v1h-1zM438,248h1v1h-1zM438,247h1v1h-1zM438,246h1v1h-1zM432,242h1v1h-1zM432,241h1v1h-1zM432,240h1v1h-1zM433,243h1v1h-1zM433,239h1v1h-1zM434,243h1v1h-1zM434,239h1v1h-1zM435,243h1v1h-1zM435,239h1v1h-1zM436,243h1v1h-1zM436,239h1v1h-1zM437,243h1v1h-1zM437,239h1v1h-1zM438,242h1v1h-1zM438,241h1v1h-1zM438,240h1v1h-1z" fill="#000"/>
<line x1="432.5" y1="175.8" x2="438.2" y2="181.5" stroke="#000" stroke-width="1.3"/>
<line x1="432.5" y1="316.8" x2="438.2" y2="322.5" stroke="#000" stroke-width="1.3"/>
<line x1="382" y1="245.5" x2="401" y2="245.5" stroke="#000" stroke-width="1"/>
<line x1="382" y1="295.5" x2="401" y2="295.5" stroke="#000" stroke-width="1"/>
<line x1="378" y1="346.5" x2="412" y2="346.5" stroke="#000" stroke-width="1"/>
<line x1="458.5" y1="350" x2="458.5" y2="480" stroke="#000" stroke-width="1" stroke-dasharray="14,2,2,2"/>
<line x1="466.5" y1="319.5" x2="466.5" y2="335.5" stroke="#000" stroke-width="1"/>
<line x1="466.5" y1="358.5" x2="466.5" y2="375.5" stroke="#000" stroke-width="1"/>
<path d="M463,354h1v1h-1zM463,353h1v1h-1zM463,352h1v1h-1zM464,355h1v1h-1zM464,351h1v1h-1zM465,355h1v1h-1zM465,351h1v1h-1zM466,355h1v1h-1zM466,351h1v1h-1zM467,355h1v1h-1zM467,351h1v1h-1zM468,355h1v1h-1zM468,351h1v1h-1zM469,354h1v1h-1zM469,353h1v1h-1zM469,352h1v1h-1zM469,349h1v1h-1zM463,346h1v1h-1zM463,345h1v1h-1zM463,344h1v1h-1zM464,347h1v1h-1zM464,343h1v1h-1zM465,347h1v1h-1zM465,343h1v1h-1zM466,346h1v1h-1zM466,345h1v1h-1zM466,344h1v1h-1zM466,343h1v1h-1zM467,343h1v1h-1zM468,344h1v1h-1zM469,346h1v1h-1zM469,345h1v1h-1zM463,340h1v1h-1zM463,339h1v1h-1zM463,338h1v1h-1zM464,341h1v1h-1zM464,337h1v1h-1zM465,337h1v1h-1zM466,338h1v1h-1zM467,339h1v1h-1zM468,340h1v1h-1zM469,341h1v1h-1zM469,340h1v1h-1zM469,339h1v1h-1zM469,338h1v1h-1zM469,337h1v1h-1z" fill="#000"/>
<line x1="463.5" y1="316.8" x2="469.2" y2="322.5" stroke="#000" stroke-width="1.3"/>
<line x1="463.5" y1="372.8" x2="469.2" y2="378.5" stroke="#000" stroke-width="1.3"/>
<line x1="466.5" y1="452.5" x2="466.5" y2="486.5" stroke="#000" stroke-width="1"/>
<line x1="466.5" y1="509.5" x2="466.5" y2="545.5" stroke="#000" stroke-width="1"/>
<path d="M463,505h1v1h-1zM464,506h1v1h-1zM464,505h1v1h-1zM465,505h1v1h-1zM466,505h1v1h-1zM467,505h1v1h-1zM468,505h1v1h-1zM469,505h1v1h-1zM469,501h1v1h-1zM463,499h1v1h-1zM463,498h1v1h-1zM463,497h1v1h-1zM463,496h1v1h-1zM463,495h1v1h-1zM464,499h1v1h-1zM465,499h1v1h-1zM465,498h1v1h-1zM465,497h1v1h-1zM465,496h1v1h-1zM466,495h1v1h-1zM467,495h1v1h-1zM468,499h1v1h-1zM468,495h1v1h-1zM469,498h1v1h-1zM469,497h1v1h-1zM469,496h1v1h-1zM463,492h1v1h-1zM463,491h1v1h-1zM463,490h1v1h-1zM464,493h1v1h-1zM464,489h1v1h-1zM465,489h1v1h-1zM466,490h1v1h-1zM467,491h1v1h-1zM468,492h1v1h-1zM469,493h1v1h-1zM469,492h1v1h-1zM469,491h1v1h-1zM469,490h1v1h-1zM469,489h1v1h-1z" fill="#000"/>
<line x1="463.5" y1="449.8" x2="469.2" y2="455.5" stroke="#000" stroke-width="1.3"/>
<line x1="463.5" y1="542.8" x2="469.2" y2="548.5" stroke="#000" stroke-width="1.3"/>
<line x1="424.5" y1="307.5" x2="474.2" y2="307.5" stroke="#000" stroke-width="1"/>
<line x1="497.2" y1="307.5" x2="549.5" y2="307.5" stroke="#000" stroke-width="1"/>
<path d="M477,304h1v1h-1zM478,304h1v1h-1zM479,304h1v1h-1zM476,305h1v1h-1zM480,305h1v1h-1zM480,306h1v1h-1zM479,307h1v1h-1zM478,308h1v1h-1zM477,309h1v1h-1zM476,310h1v1h-1zM477,310h1v1h-1zM478,310h1v1h-1zM479,310h1v1h-1zM480,310h1v1h-1zM482,310h1v1h-1zM485,304h1v1h-1zM486,304h1v1h-1zM487,304h1v1h-1zM484,305h1v1h-1zM488,305h1v1h-1zM484,306h1v1h-1zM488,306h1v1h-1zM484,307h1v1h-1zM488,307h1v1h-1zM484,308h1v1h-1zM488,308h1v1h-1zM484,309h1v1h-1zM488,309h1v1h-1zM485,310h1v1h-1zM486,310h1v1h-1zM487,310h1v1h-1zM493,304h1v1h-1zM492,305h1v1h-1zM493,305h1v1h-1zM491,306h1v1h-1zM493,306h1v1h-1zM490,307h1v1h-1zM493,307h1v1h-1zM490,308h1v1h-1zM491,308h1v1h-1zM492,308h1v1h-1zM493,308h1v1h-1zM494,308h1v1h-1zM493,309h1v1h-1zM493,310h1v1h-1z" fill="#000"/>
<line x1="421.3" y1="310.2" x2="427.7" y2="304.5" stroke="#000" stroke-width="1.3"/>
<line x1="546.3" y1="310.2" x2="552.7" y2="304.5" stroke="#000" stroke-width="1.3"/>
<line x1="496.5" y1="424.5" x2="511.0" y2="424.5" stroke="#000" stroke-width="1"/>
<line x1="534.0" y1="424.5" x2="549.5" y2="424.5" stroke="#000" stroke-width="1"/>
<path d="M514,421h1v1h-1zM515,421h1v1h-1zM516,421h1v1h-1zM513,422h1v1h-1zM517,422h1v1h-1zM513,423h1v1h-1zM517,423h1v1h-1zM513,424h1v1h-1zM517,424h1v1h-1zM513,425h1v1h-1zM517,425h1v1h-1zM513,426h1v1h-1zM517,426h1v1h-1zM514,427h1v1h-1zM515,427h1v1h-1zM516,427h1v1h-1zM519,427h1v1h-1zM522,421h1v1h-1zM523,421h1v1h-1zM524,421h1v1h-1zM521,422h1v1h-1zM525,422h1v1h-1zM521,423h1v1h-1zM525,423h1v1h-1zM522,424h1v1h-1zM523,424h1v1h-1zM524,424h1v1h-1zM521,425h1v1h-1zM525,425h1v1h-1zM521,426h1v1h-1zM525,426h1v1h-1zM522,427h1v1h-1zM523,427h1v1h-1zM524,427h1v1h-1zM528,421h1v1h-1zM529,421h1v1h-1zM530,421h1v1h-1zM527,422h1v1h-1zM531,422h1v1h-1zM527,423h1v1h-1zM531,423h1v1h-1zM528,424h1v1h-1zM529,424h1v1h-1zM530,424h1v1h-1zM527,425h1v1h-1zM531,425h1v1h-1zM527,426h1v1h-1zM531,426h1v1h-1zM528,427h1v1h-1zM529,427h1v1h-1zM530,427h1v1h-1z" fill="#000"/>
<line x1="493.3" y1="427.2" x2="499.7" y2="421.5" stroke="#000" stroke-width="1.3"/>
<line x1="546.3" y1="427.2" x2="552.7" y2="421.5" stroke="#000" stroke-width="1.3"/>
<line x1="266.5" y1="366.5" x2="271.5" y2="366.5" stroke="#000" stroke-width="1"/>
<line x1="295.5" y1="366.5" x2="301.5" y2="366.5" stroke="#000" stroke-width="1"/>
<path d="M275,363h1v1h-1zM276,363h1v1h-1zM277,363h1v1h-1zM274,364h1v1h-1zM278,364h1v1h-1zM274,365h1v1h-1zM278,365h1v1h-1zM274,366h1v1h-1zM278,366h1v1h-1zM274,367h1v1h-1zM278,367h1v1h-1zM274,368h1v1h-1zM278,368h1v1h-1zM275,369h1v1h-1zM276,369h1v1h-1zM277,369h1v1h-1zM280,369h1v1h-1zM282,363h1v1h-1zM283,363h1v1h-1zM284,363h1v1h-1zM285,363h1v1h-1zM286,363h1v1h-1zM282,364h1v1h-1zM282,365h1v1h-1zM283,365h1v1h-1zM284,365h1v1h-1zM285,365h1v1h-1zM286,366h1v1h-1zM286,367h1v1h-1zM282,368h1v1h-1zM286,368h1v1h-1zM283,369h1v1h-1zM284,369h1v1h-1zM285,369h1v1h-1zM289,363h1v1h-1zM290,363h1v1h-1zM291,363h1v1h-1zM288,364h1v1h-1zM292,364h1v1h-1zM288,365h1v1h-1zM292,365h1v1h-1zM289,366h1v1h-1zM290,366h1v1h-1zM291,366h1v1h-1zM288,367h1v1h-1zM292,367h1v1h-1zM288,368h1v1h-1zM292,368h1v1h-1zM289,369h1v1h-1zM290,369h1v1h-1zM291,369h1v1h-1z" fill="#000"/>
<line x1="263.3" y1="369.2" x2="269.7" y2="363.5" stroke="#000" stroke-width="1.3"/>
<line x1="298.3" y1="369.2" x2="304.7" y2="363.5" stroke="#000" stroke-width="1.3"/>
<line x1="562.5" y1="319.5" x2="562.5" y2="354.5" stroke="#000" stroke-width="1"/>
<line x1="562.5" y1="377.5" x2="562.5" y2="413.5" stroke="#000" stroke-width="1"/>
<path d="M559,373h1v1h-1zM560,374h1v1h-1zM560,373h1v1h-1zM561,373h1v1h-1zM562,373h1v1h-1zM563,373h1v1h-1zM564,373h1v1h-1zM565,373h1v1h-1zM565,369h1v1h-1zM559,367h1v1h-1zM559,366h1v1h-1zM559,365h1v1h-1zM559,364h1v1h-1zM559,363h1v1h-1zM560,367h1v1h-1zM561,367h1v1h-1zM561,366h1v1h-1zM561,365h1v1h-1zM561,364h1v1h-1zM562,363h1v1h-1zM563,363h1v1h-1zM564,367h1v1h-1zM564,363h1v1h-1zM565,366h1v1h-1zM565,365h1v1h-1zM565,364h1v1h-1zM559,361h1v1h-1zM559,360h1v1h-1zM559,359h1v1h-1zM559,358h1v1h-1zM559,357h1v1h-1zM560,361h1v1h-1zM561,361h1v1h-1zM561,360h1v1h-1zM561,359h1v1h-1zM561,358h1v1h-1zM562,357h1v1h-1zM563,357h1v1h-1zM564,361h1v1h-1zM564,357h1v1h-1zM565,360h1v1h-1zM565,359h1v1h-1zM565,358h1v1h-1z" fill="#000"/>
<line x1="559.5" y1="316.8" x2="565.2" y2="322.5" stroke="#000" stroke-width="1.3"/>
<line x1="559.5" y1="410.8" x2="565.2" y2="416.5" stroke="#000" stroke-width="1.3"/>
<line x1="562.5" y1="413.5" x2="562.5" y2="467.5" stroke="#000" stroke-width="1"/>
<line x1="562.5" y1="490.5" x2="562.5" y2="545.5" stroke="#000" stroke-width="1"/>
<path d="M559,486h1v1h-1zM559,485h1v1h-1zM559,484h1v1h-1zM560,487h1v1h-1zM560,483h1v1h-1zM561,483h1v1h-1zM562,484h1v1h-1zM563,485h1v1h-1zM564,486h1v1h-1zM565,487h1v1h-1zM565,486h1v1h-1zM565,485h1v1h-1zM565,484h1v1h-1zM565,483h1v1h-1zM565,481h1v1h-1zM559,477h1v1h-1zM560,478h1v1h-1zM560,477h1v1h-1zM561,477h1v1h-1zM562,477h1v1h-1zM563,477h1v1h-1zM564,477h1v1h-1zM565,477h1v1h-1zM559,473h1v1h-1zM559,472h1v1h-1zM559,471h1v1h-1zM559,470h1v1h-1zM559,469h1v1h-1zM560,473h1v1h-1zM561,473h1v1h-1zM561,472h1v1h-1zM561,471h1v1h-1zM561,470h1v1h-1zM562,469h1v1h-1zM563,469h1v1h-1zM564,473h1v1h-1zM564,469h1v1h-1zM565,472h1v1h-1zM565,471h1v1h-1zM565,470h1v1h-1z" fill="#000"/>
<line x1="559.5" y1="410.8" x2="565.2" y2="416.5" stroke="#000" stroke-width="1.3"/>
<line x1="559.5" y1="542.8" x2="565.2" y2="548.5" stroke="#000" stroke-width="1.3"/>
<line x1="574.5" y1="319.5" x2="574.5" y2="419.5" stroke="#000" stroke-width="1"/>
<line x1="574.5" y1="442.5" x2="574.5" y2="545.5" stroke="#000" stroke-width="1"/>
<path d="M571,439h1v1h-1zM571,438h1v1h-1zM571,437h1v1h-1zM571,436h1v1h-1zM571,435h1v1h-1zM572,436h1v1h-1zM573,437h1v1h-1zM574,436h1v1h-1zM575,435h1v1h-1zM576,439h1v1h-1zM576,435h1v1h-1zM577,438h1v1h-1zM577,437h1v1h-1zM577,436h1v1h-1zM577,433h1v1h-1zM571,431h1v1h-1zM571,430h1v1h-1zM571,429h1v1h-1zM571,428h1v1h-1zM571,427h1v1h-1zM572,427h1v1h-1zM573,428h1v1h-1zM574,429h1v1h-1zM575,430h1v1h-1zM576,430h1v1h-1zM577,430h1v1h-1zM571,424h1v1h-1zM571,423h1v1h-1zM571,422h1v1h-1zM572,425h1v1h-1zM572,421h1v1h-1zM573,425h1v1h-1zM573,421h1v1h-1zM574,425h1v1h-1zM574,421h1v1h-1zM575,425h1v1h-1zM575,421h1v1h-1zM576,425h1v1h-1zM576,421h1v1h-1zM577,424h1v1h-1zM577,423h1v1h-1zM577,422h1v1h-1z" fill="#000"/>
<line x1="571.5" y1="316.8" x2="577.2" y2="322.5" stroke="#000" stroke-width="1.3"/>
<line x1="571.5" y1="542.8" x2="577.2" y2="548.5" stroke="#000" stroke-width="1.3"/>
<line x1="554" y1="319.5" x2="578" y2="319.5" stroke="#000" stroke-width="1"/>
<line x1="552" y1="413.5" x2="591" y2="413.5" stroke="#000" stroke-width="1"/>
<line x1="554" y1="545.5" x2="578" y2="545.5" stroke="#000" stroke-width="1"/>
<line x1="548.5" y1="303" x2="548.5" y2="314" stroke="#000" stroke-width="1"/>
<line x1="301.5" y1="559.5" x2="311.0" y2="559.5" stroke="#000" stroke-width="1"/>
<line x1="334.0" y1="559.5" x2="344.5" y2="559.5" stroke="#000" stroke-width="1"/>
<path d="M314,556h1v1h-1zM315,556h1v1h-1zM316,556h1v1h-1zM313,557h1v1h-1zM317,557h1v1h-1zM313,558h1v1h-1zM317,558h1v1h-1zM313,559h1v1h-1zM317,559h1v1h-1zM313,560h1v1h-1zM317,560h1v1h-1zM313,561h1v1h-1zM317,561h1v1h-1zM314,562h1v1h-1zM315,562h1v1h-1zM316,562h1v1h-1zM319,562h1v1h-1zM321,556h1v1h-1zM322,556h1v1h-1zM323,556h1v1h-1zM324,556h1v1h-1zM325,556h1v1h-1zM325,557h1v1h-1zM324,558h1v1h-1zM323,559h1v1h-1zM322,560h1v1h-1zM322,561h1v1h-1zM322,562h1v1h-1zM328,556h1v1h-1zM329,556h1v1h-1zM330,556h1v1h-1zM327,557h1v1h-1zM331,557h1v1h-1zM331,558h1v1h-1zM330,559h1v1h-1zM329,560h1v1h-1zM328,561h1v1h-1zM327,562h1v1h-1zM328,562h1v1h-1zM329,562h1v1h-1zM330,562h1v1h-1zM331,562h1v1h-1z" fill="#000"/>
<line x1="298.3" y1="562.2" x2="304.7" y2="556.5" stroke="#000" stroke-width="1.3"/>
<line x1="341.3" y1="562.2" x2="347.7" y2="556.5" stroke="#000" stroke-width="1.3"/>
<line x1="344.5" y1="559.5" x2="435.0" y2="559.5" stroke="#000" stroke-width="1"/>
<line x1="458.0" y1="559.5" x2="549.5" y2="559.5" stroke="#000" stroke-width="1"/>
<path d="M437,556h1v1h-1zM438,556h1v1h-1zM439,556h1v1h-1zM440,556h1v1h-1zM441,556h1v1h-1zM440,557h1v1h-1zM439,558h1v1h-1zM440,559h1v1h-1zM441,560h1v1h-1zM437,561h1v1h-1zM441,561h1v1h-1zM438,562h1v1h-1zM439,562h1v1h-1zM440,562h1v1h-1zM443,562h1v1h-1zM445,556h1v1h-1zM446,556h1v1h-1zM447,556h1v1h-1zM448,556h1v1h-1zM449,556h1v1h-1zM448,557h1v1h-1zM447,558h1v1h-1zM448,559h1v1h-1zM449,560h1v1h-1zM445,561h1v1h-1zM449,561h1v1h-1zM446,562h1v1h-1zM447,562h1v1h-1zM448,562h1v1h-1zM454,556h1v1h-1zM453,557h1v1h-1zM454,557h1v1h-1zM452,558h1v1h-1zM454,558h1v1h-1zM451,559h1v1h-1zM454,559h1v1h-1zM451,560h1v1h-1zM452,560h1v1h-1zM453,560h1v1h-1zM454,560h1v1h-1zM455,560h1v1h-1zM454,561h1v1h-1zM454,562h1v1h-1z" fill="#000"/>
<line x1="341.3" y1="562.2" x2="347.7" y2="556.5" stroke="#000" stroke-width="1.3"/>
<line x1="546.3" y1="562.2" x2="552.7" y2="556.5" stroke="#000" stroke-width="1.3"/>
<line x1="301.5" y1="571.5" x2="413.5" y2="571.5" stroke="#000" stroke-width="1"/>
<line x1="436.5" y1="571.5" x2="549.5" y2="571.5" stroke="#000" stroke-width="1"/>
<path d="M419,568h1v1h-1zM418,569h1v1h-1zM419,569h1v1h-1zM417,570h1v1h-1zM419,570h1v1h-1zM416,571h1v1h-1zM419,571h1v1h-1zM416,572h1v1h-1zM417,572h1v1h-1zM418,572h1v1h-1zM419,572h1v1h-1zM420,572h1v1h-1zM419,573h1v1h-1zM419,574h1v1h-1zM422,574h1v1h-1zM425,568h1v1h-1zM426,568h1v1h-1zM427,568h1v1h-1zM424,569h1v1h-1zM428,569h1v1h-1zM424,570h1v1h-1zM428,570h1v1h-1zM424,571h1v1h-1zM428,571h1v1h-1zM424,572h1v1h-1zM428,572h1v1h-1zM424,573h1v1h-1zM428,573h1v1h-1zM425,574h1v1h-1zM426,574h1v1h-1zM427,574h1v1h-1zM430,568h1v1h-1zM431,568h1v1h-1zM432,568h1v1h-1zM433,568h1v1h-1zM434,568h1v1h-1zM434,569h1v1h-1zM433,570h1v1h-1zM432,571h1v1h-1zM431,572h1v1h-1zM431,573h1v1h-1zM431,574h1v1h-1z" fill="#000"/>
<line x1="298.3" y1="574.2" x2="304.7" y2="568.5" stroke="#000" stroke-width="1.3"/>
<line x1="546.3" y1="574.2" x2="552.7" y2="568.5" stroke="#000" stroke-width="1.3"/>
<line x1="300.5" y1="547" x2="300.5" y2="576" stroke="#000" stroke-width="1"/>
<line x1="548.5" y1="548" x2="548.5" y2="576" stroke="#000" stroke-width="1"/>
<line x1="333.5" y1="517.5" x2="333.5" y2="520.0" stroke="#000" stroke-width="1"/>
<line x1="333.5" y1="542.0" x2="333.5" y2="545.5" stroke="#000" stroke-width="1"/>
<path d="M330,538h1v1h-1zM330,537h1v1h-1zM330,536h1v1h-1zM331,539h1v1h-1zM331,535h1v1h-1zM332,539h1v1h-1zM332,535h1v1h-1zM333,539h1v1h-1zM333,535h1v1h-1zM334,539h1v1h-1zM334,535h1v1h-1zM335,539h1v1h-1zM335,535h1v1h-1zM336,538h1v1h-1zM336,537h1v1h-1zM336,536h1v1h-1zM336,533h1v1h-1zM330,528h1v1h-1zM331,529h1v1h-1zM331,528h1v1h-1zM332,530h1v1h-1zM332,528h1v1h-1zM333,531h1v1h-1zM333,528h1v1h-1zM334,531h1v1h-1zM334,530h1v1h-1zM334,529h1v1h-1zM334,528h1v1h-1zM334,527h1v1h-1zM335,528h1v1h-1zM336,528h1v1h-1zM330,522h1v1h-1zM331,523h1v1h-1zM331,522h1v1h-1zM332,524h1v1h-1zM332,522h1v1h-1zM333,525h1v1h-1zM333,522h1v1h-1zM334,525h1v1h-1zM334,524h1v1h-1zM334,523h1v1h-1zM334,522h1v1h-1zM334,521h1v1h-1zM335,522h1v1h-1zM336,522h1v1h-1z" fill="#000"/>
<line x1="330" y1="521" x2="336" y2="515" stroke="#000" stroke-width="1.3"/>
<line x1="330" y1="548" x2="336" y2="542" stroke="#000" stroke-width="1.3"/>
<rect x="179.5" y="359.5" width="128" height="108" fill="none" stroke="#000" stroke-width="1"/>
<rect x="180" y="374" width="4" height="79" fill="#000"/>
<line x1="184" y1="376.5" x2="298" y2="376.5" stroke="#000" stroke-width="1"/>
<line x1="184" y1="386.5" x2="298" y2="386.5" stroke="#000" stroke-width="1"/>
<line x1="184" y1="440.5" x2="298" y2="440.5" stroke="#000" stroke-width="1"/>
<line x1="184" y1="450.5" x2="298" y2="450.5" stroke="#000" stroke-width="1"/>
<line x1="213.5" y1="386" x2="213.5" y2="440" stroke="#000" stroke-width="1"/>
<line x1="270.5" y1="386" x2="270.5" y2="440" stroke="#000" stroke-width="1"/>
<rect x="175.5" y="391.5" width="4" height="44" fill="none" stroke="#000" stroke-width="1"/>
<line x1="177.5" y1="393" x2="177.5" y2="431" stroke="#000" stroke-width="1"/>
<line x1="182" y1="398" x2="182" y2="428" stroke="#fff" stroke-width="1"/>
<rect x="173.5" y="407.5" width="2" height="12" fill="none" stroke="#000" stroke-width="1"/>
<rect x="298" y="374" width="4" height="79" fill="#000"/>
<line x1="300.5" y1="376" x2="300.5" y2="451" stroke="#fff" stroke-width="1" stroke-dasharray="1,3"/>
<rect x="302.5" y="391.5" width="3" height="44" fill="none" stroke="#000" stroke-width="1"/>
<rect x="305" y="397" width="2" height="23" fill="#000"/>
<line x1="298.5" y1="374" x2="298.5" y2="453" stroke="#000" stroke-width="1"/>
<line x1="314.5" y1="115" x2="314.5" y2="245" stroke="#000" stroke-width="1"/>
<line x1="375.5" y1="115" x2="375.5" y2="245" stroke="#000" stroke-width="1"/>
<rect x="307.5" y="245.5" width="74" height="4" fill="none" stroke="#000" stroke-width="1"/>
<line x1="308" y1="247.5" x2="381" y2="247.5" stroke="#000" stroke-width="1"/>
<line x1="313.5" y1="249" x2="313.5" y2="280" stroke="#000" stroke-width="1"/>
<line x1="375.5" y1="249" x2="375.5" y2="280" stroke="#000" stroke-width="1"/>
<line x1="306" y1="264.5" x2="382" y2="264.5" stroke="#000" stroke-width="1"/>
<rect x="306.5" y="263.5" width="16" height="3" fill="none" stroke="#000" stroke-width="1"/>
<rect x="367.5" y="263.5" width="14" height="3" fill="none" stroke="#000" stroke-width="1"/>
<rect x="382.5" y="254.5" width="4" height="21" fill="none" stroke="#000" stroke-width="1"/>
<rect x="375.5" y="256.5" width="7" height="17" fill="none" stroke="#000" stroke-width="1"/>
<rect x="300.5" y="254.5" width="5" height="22" fill="none" stroke="#000" stroke-width="1"/>
<line x1="305" y1="256" x2="313" y2="252" stroke="#000" stroke-width="1"/>
<line x1="305" y1="274" x2="313" y2="278" stroke="#000" stroke-width="1"/>
<rect x="291.5" y="257.5" width="8" height="51" fill="none" stroke="#000" stroke-width="1"/>
<line x1="295.5" y1="257" x2="295.5" y2="308" stroke="#000" stroke-width="1"/>
<rect x="289.5" y="276.5" width="12" height="9" fill="none" stroke="#000" stroke-width="1"/>
<rect x="307.5" y="279.5" width="74" height="4" fill="none" stroke="#000" stroke-width="1"/>
<rect x="307.5" y="289.5" width="74" height="6" fill="none" stroke="#000" stroke-width="1"/>
<line x1="308" y1="292.5" x2="381" y2="292.5" stroke="#000" stroke-width="1"/>
<rect x="282.5" y="290.5" width="24" height="53" fill="none" stroke="#000" stroke-width="1"/>
<line x1="282" y1="315.5" x2="306" y2="315.5" stroke="#000" stroke-width="1"/>
<line x1="295.5" y1="290" x2="295.5" y2="343" stroke="#000" stroke-width="1"/>
<line x1="313.5" y1="295" x2="317" y2="346" stroke="#000" stroke-width="1"/>
<line x1="376" y1="295" x2="372.5" y2="346" stroke="#000" stroke-width="1"/>
<rect x="312.5" y="346.5" width="66" height="7" fill="none" stroke="#000" stroke-width="1"/>
<line x1="312" y1="349.5" x2="378" y2="349.5" stroke="#000" stroke-width="1"/>
<rect x="312" y="346" width="6" height="7" fill="#000"/>
<rect x="372" y="346" width="6" height="7" fill="#000"/>
<line x1="307" y1="355.5" x2="382" y2="355.5" stroke="#000" stroke-width="1"/>
<line x1="307" y1="516.5" x2="382" y2="516.5" stroke="#000" stroke-width="1"/>
<line x1="307.5" y1="355" x2="307.5" y2="516" stroke="#000" stroke-width="1"/>
<line x1="382.5" y1="355" x2="382.5" y2="389" stroke="#000" stroke-width="1"/>
<line x1="382.5" y1="438" x2="382.5" y2="516" stroke="#000" stroke-width="1"/>
<line x1="311.5" y1="353" x2="311.5" y2="408" stroke="#000" stroke-width="1"/>
<line x1="317.5" y1="353" x2="317.5" y2="364" stroke="#000" stroke-width="2"/>
<rect x="311.5" y="363.5" width="16" height="22" fill="none" stroke="#000" stroke-width="1"/>
<rect x="311.5" y="385.5" width="13" height="23" fill="none" stroke="#000" stroke-width="1"/>
<rect x="308.5" y="408.5" width="14" height="10" fill="none" stroke="#000" stroke-width="1"/>
<line x1="308" y1="413.5" x2="322" y2="413.5" stroke="#000" stroke-width="1"/>
<line x1="372" y1="345" x2="372" y2="389" stroke="#000" stroke-width="2"/>
<rect x="372.5" y="355.5" width="5" height="34" fill="none" stroke="#000" stroke-width="1"/>
<line x1="372" y1="364.5" x2="377" y2="364.5" stroke="#000" stroke-width="2"/>
<line x1="372" y1="384" x2="377" y2="384" stroke="#000" stroke-width="2"/>
<rect x="377.5" y="355.5" width="5" height="33" fill="none" stroke="#000" stroke-width="1"/>
<path d="M322.5,405 L323.4,396.8 L325,381.3 L326.5,370 L328.1,362.2 Q331,353.4 344.5,353.4 Q358,353.4 361.1,359.6 L362.7,366.8 L363.7,371 L365.2,383.4 L366.3,398.3 L367,410 L368,432 L370.3,447 L372,459 L372,479 Q370,500 344.8,502 Q320,500 317.7,479 L317.7,459 L319.4,447.4 L321.1,432.1 Z" fill="#fff" stroke="#000" stroke-width="1.3"/>
<rect x="332.5" y="341.5" width="24" height="4" fill="none" stroke="#000" stroke-width="1"/>
<line x1="332" y1="344.5" x2="356" y2="344.5" stroke="#000" stroke-width="1"/>
<rect x="336.5" y="345.5" width="17" height="8" fill="none" stroke="#000" stroke-width="1"/>
<path d="M326.5,370 C328.5,362.2 336.5,361.2 344.5,361.2 C353.7,361.2 361.7,362.2 363.7,371" fill="none" stroke="#000" stroke-width="1.3"/>
<path d="M325,381.3 C327,376.6 335,375.6 344.5,375.6 C355.2,375.6 363.2,376.6 365.2,383.4" fill="none" stroke="#000" stroke-width="1.3"/>
<path d="M323.4,396.8 C325.4,394.2 333.4,393.2 344.5,393.2 C356.3,393.2 364.3,394.2 366.3,398.3" fill="none" stroke="#000" stroke-width="1.3"/>
<path d="M321.5,429.6 C323.5,434.5 331.5,435.5 344.8,435.5 C358,435.5 366,432.14 368,431.3" fill="none" stroke="#000" stroke-width="1.3"/>
<path d="M320,447.4 C322,454.8 330,455.8 344.8,455.8 C360,455.8 368,449.71999999999997 370,448.2" fill="none" stroke="#000" stroke-width="1.3"/>
<path d="M318.5,461 C320.5,473.5 328.5,474.5 344.8,474.5 C361.5,474.5 369.5,464.34000000000003 371.5,461.8" fill="none" stroke="#000" stroke-width="1.3"/>
<path d="M317.7,476 C319.7,491.3 327.7,492.3 344.8,492.3 C362,492.3 370,479.26 372,476" fill="none" stroke="#000" stroke-width="1.3"/>
<path d="M318.5,484 Q324,503.5 344.8,503.5 Q366,503.5 371.5,482" fill="none" stroke="#000" stroke-width="1.3"/>
<line x1="372.5" y1="438" x2="372.5" y2="480" stroke="#000" stroke-width="1"/>
<line x1="322.5" y1="490" x2="322.5" y2="511" stroke="#000" stroke-width="1"/>
<line x1="366.5" y1="490" x2="366.5" y2="511" stroke="#000" stroke-width="1"/>
<line x1="322" y1="511.5" x2="366" y2="511.5" stroke="#000" stroke-width="1"/>
<line x1="322" y1="509.5" x2="366" y2="509.5" stroke="#000" stroke-width="1"/>
<line x1="322" y1="506.5" x2="366" y2="506.5" stroke="#000" stroke-width="1" stroke-dasharray="3,2"/>
<circle cx="326.2" cy="506.7" r="2.4" fill="#000"/>
<circle cx="337.2" cy="506.7" r="2.4" fill="#000"/>
<circle cx="351.6" cy="506.7" r="2.4" fill="#000"/>
<circle cx="363.5" cy="506.7" r="2.4" fill="#000"/>
<line x1="331.5" y1="490" x2="331.5" y2="513" stroke="#000" stroke-width="1"/>
<line x1="344.5" y1="490" x2="344.5" y2="513" stroke="#000" stroke-width="1"/>
<line x1="358.5" y1="490" x2="358.5" y2="513" stroke="#000" stroke-width="1"/>
<line x1="344.5" y1="115" x2="344.5" y2="545" stroke="#000" stroke-width="1" stroke-dasharray="14,2,2,2"/>
<line x1="344.5" y1="545" x2="344.5" y2="572" stroke="#000" stroke-width="1"/>
<line x1="344.5" y1="572" x2="344.5" y2="594" stroke="#000" stroke-width="1" stroke-dasharray="14,2,2,2"/>
<line x1="36" y1="413.5" x2="591" y2="413.5" stroke="#000" stroke-width="1" stroke-dasharray="16,3,2,3"/>
<path d="M366,390 L401,387 L440,386.5" fill="none" stroke="#000"/>
<path d="M368,437 L401,440 L440,440.5" fill="none" stroke="#000"/>
<line x1="398" y1="381.5" x2="518" y2="381.5" stroke="#000" stroke-width="1"/>
<line x1="398" y1="444.5" x2="518" y2="444.5" stroke="#000" stroke-width="1"/>
<line x1="398" y1="381.5" x2="428" y2="381.5" stroke="#000" stroke-width="2"/>
<line x1="398" y1="444.5" x2="428" y2="444.5" stroke="#000" stroke-width="2"/>
<line x1="492" y1="381.5" x2="518" y2="381.5" stroke="#000" stroke-width="2"/>
<line x1="492" y1="444.5" x2="518" y2="444.5" stroke="#000" stroke-width="2"/>
<rect x="401.5" y="357.5" width="113" height="113" fill="none" stroke="#000" stroke-width="1"/>
<line x1="427.5" y1="353" x2="427.5" y2="474" stroke="#000" stroke-width="1"/>
<line x1="488.5" y1="352" x2="488.5" y2="474" stroke="#000" stroke-width="1"/>
<rect x="426" y="360" width="2" height="14" fill="#000"/><rect x="426" y="453" width="2" height="14" fill="#000"/>
<line x1="412.5" y1="386" x2="412.5" y2="440" stroke="#000" stroke-width="1"/>
<path d="M458,380.5 A33,33 0 0 1 458,446.5" fill="none" stroke="#000"/>
<circle cx="458.3" cy="413.5" r="43.5" fill="none" stroke="#000" stroke-width="1"/>
<circle cx="458.3" cy="413.5" r="40" fill="none" stroke="#000" stroke-width="1"/>
<circle cx="458.3" cy="413.5" r="36.5" fill="none" stroke="#000" stroke-width="2.2"/>
<ellipse cx="442.3" cy="413.5" rx="12" ry="27" fill="none" stroke="#000"/>
<path d="M442,386.5 A30,27 0 0 1 442,440.5" fill="none" stroke="#000"/>
<path d="M442,384 A41,29.5 0 0 1 442,443" fill="none" stroke="#000"/>
<rect x="212.5" y="562.5" width="48" height="54" fill="none" stroke="#000" stroke-width="1"/>
<rect x="214.5" y="564.5" width="44" height="50" fill="none" stroke="#000" stroke-width="1"/>
<line x1="214" y1="584.5" x2="258" y2="584.5" stroke="#000" stroke-width="1"/>
<line x1="214" y1="587.5" x2="258" y2="587.5" stroke="#000" stroke-width="1"/>
<line x1="225.5" y1="564" x2="225.5" y2="584" stroke="#000" stroke-width="1"/>
<line x1="227.5" y1="564" x2="227.5" y2="584" stroke="#000" stroke-width="1"/>
<line x1="245.5" y1="564" x2="245.5" y2="584" stroke="#000" stroke-width="1"/>
<line x1="247.5" y1="564" x2="247.5" y2="584" stroke="#000" stroke-width="1"/>
<circle cx="236" cy="573.5" r="8.5" fill="none" stroke="#000" stroke-width="1.5"/>
<circle cx="236" cy="573.5" r="4.2" fill="none" stroke="#000" stroke-width="1.2"/>
<line x1="232" y1="573.5" x2="240" y2="573.5" stroke="#000" stroke-width="1"/>
<line x1="236" y1="569.5" x2="236" y2="577.5" stroke="#000" stroke-width="1"/>
<line x1="232" y1="571.5" x2="240" y2="571.5" stroke="#000" stroke-width="1"/>
<line x1="232" y1="575.5" x2="240" y2="575.5" stroke="#000" stroke-width="1"/>
<line x1="234" y1="569.5" x2="234" y2="577.5" stroke="#000" stroke-width="1"/>
<line x1="238" y1="569.5" x2="238" y2="577.5" stroke="#000" stroke-width="1"/>
<line x1="220" y1="573.5" x2="251" y2="573.5" stroke="#000" stroke-width="1"/>
<line x1="236.5" y1="559" x2="236.5" y2="590" stroke="#000" stroke-width="1"/>
<rect x="220.5" y="590.5" width="32" height="21" fill="none" stroke="#000" stroke-width="1"/>
<circle cx="243.7" cy="598.4" r="6.8" fill="#000"/>
<circle cx="243.7" cy="598.4" r="5" fill="none" stroke="#fff" stroke-width="0.8" stroke-dasharray="1,1.5"/>
<line x1="233" y1="598.5" x2="254" y2="598.5" stroke="#000" stroke-width="1"/>
<line x1="243.5" y1="588" x2="243.5" y2="608" stroke="#000" stroke-width="1"/>
<polygon points="240,607 247,607 244,611" fill="#000"/>
<rect x="222.5" y="602.5" width="6" height="8" fill="none" stroke="#000" stroke-width="1"/>
<line x1="218" y1="606.5" x2="232" y2="606.5" stroke="#000" stroke-width="1"/>
<line x1="225.5" y1="597" x2="225.5" y2="618" stroke="#000" stroke-width="1"/>
<ellipse cx="226" cy="611" rx="7" ry="2.5" fill="#000"/>
<path d="M503.5,523.5 L503.5,515.5 A8,8 0 0 1 511.5,523.5 Z" fill="#1e1e1e"/>
<path d="M503.5,523.5 L503.5,531.5 A8,8 0 0 1 495.5,523.5 Z" fill="#1e1e1e"/>
<circle cx="503.5" cy="523.5" r="8.2" fill="none" stroke="#000" stroke-width="1.6"/>
<line x1="490.5" y1="523.5" x2="516.5" y2="523.5" stroke="#000" stroke-width="1"/>
<line x1="503.5" y1="499.5" x2="503.5" y2="535.5" stroke="#000" stroke-width="1"/>
<line x1="503.5" y1="499.5" x2="534" y2="499.5" stroke="#000" stroke-width="1"/>
<text x="503.5" y="498.5" font-size="10.5" textLength="29.5" lengthAdjust="spacingAndGlyphs">−0.83</text>
<path d="M509.5,614.5 L509.5,606.5 A8,8 0 0 1 517.5,614.5 Z" fill="#1e1e1e"/>
<path d="M509.5,614.5 L509.5,622.5 A8,8 0 0 1 501.5,614.5 Z" fill="#1e1e1e"/>
<circle cx="509.5" cy="614.5" r="8.2" fill="none" stroke="#000" stroke-width="1.6"/>
<line x1="496.5" y1="614.5" x2="522.5" y2="614.5" stroke="#000" stroke-width="1"/>
<line x1="509.5" y1="590.5" x2="509.5" y2="626.5" stroke="#000" stroke-width="1"/>
<line x1="509.5" y1="590.5" x2="539" y2="590.5" stroke="#000" stroke-width="1"/>
<text x="509.5" y="589.5" font-size="10.5" textLength="28.5" lengthAdjust="spacingAndGlyphs">+0.00</text>
</svg></body></html>
